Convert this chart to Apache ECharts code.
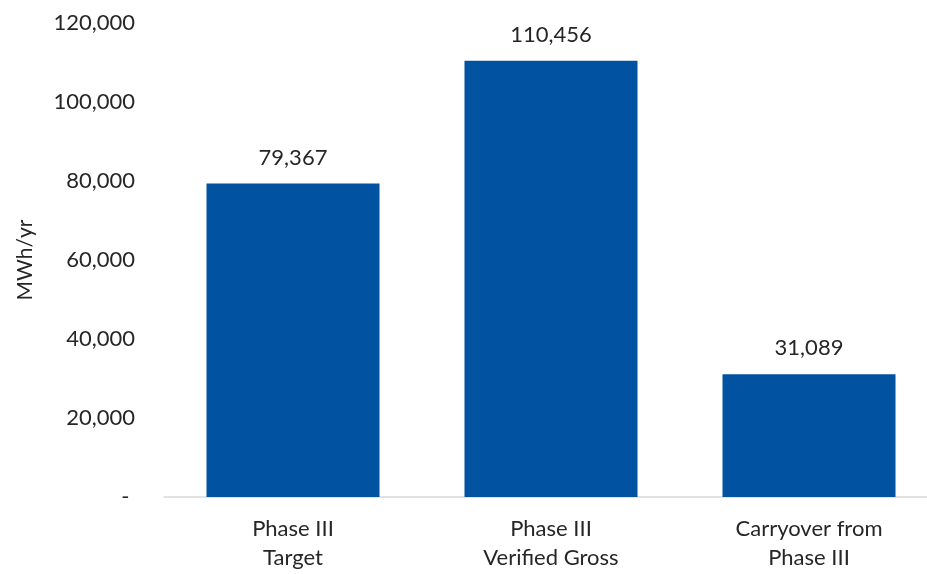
<!DOCTYPE html>
<html><head><meta charset="utf-8">
<script src="https://cdn.jsdelivr.net/npm/echarts@6/dist/echarts.min.js"></script>
<style>html,body{margin:0;padding:0;background:#fff;overflow:hidden;width:927px;height:574px}#c{width:938px;height:574px}</style>
</head><body><div id="c"></div>
<script>
const categories = ['Phase III\nTarget', 'Phase III\nVerified Gross', 'Carryover from\nPhase III'];
const values = [79367, 110456, 31089];
const yTicks = [0, 20000, 40000, 60000, 80000, 100000, 120000];
const yAxisName = 'MWh/yr';

const fmt = v => v.toLocaleString('en-US');
const FONT = 'Lato';
const chart = echarts.init(document.getElementById('c'));
chart.setOption({
  animation: false,
  textStyle: { fontFamily: FONT },
  grid: { left: 164, right: 0, top: 23, bottom: 77, containLabel: false },
  xAxis: {
    type: 'category', data: categories,
    axisLine: { lineStyle: { color: '#d9d9d9', width: 1.5 } },
    axisTick: { show: false },
    axisLabel: { color: '#262626', fontSize: 22, fontFamily: FONT, lineHeight: 29, margin: 17 }
  },
  yAxis: {
    type: 'value', min: yTicks[0], max: yTicks[yTicks.length - 1], interval: yTicks[1] - yTicks[0],
    name: yAxisName, nameLocation: 'middle', nameGap: 128, nameRotate: 90,
    nameTextStyle: { color: '#262626', fontSize: 21, fontFamily: FONT },
    axisLine: { show: false }, axisTick: { show: false },
    splitLine: { show: false },
    axisLabel: { color: '#262626', fontSize: 22, fontFamily: FONT, margin: 29,
      formatter: v => v === 0 ? '- ' : fmt(v) }
  },
  series: [{
    type: 'bar', data: values, barWidth: 173,
    itemStyle: { color: '#0152A1' },
    label: { show: true, position: 'top', distance: 15, color: '#262626', fontSize: 22, fontFamily: FONT,
      formatter: p => fmt(p.value) }
  }]
});
</script></body></html>
